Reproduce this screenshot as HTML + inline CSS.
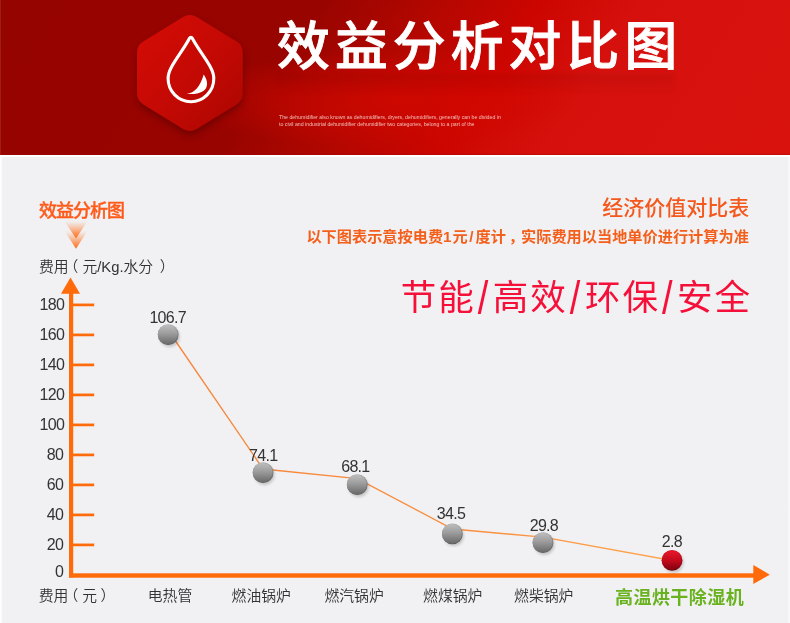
<!DOCTYPE html>
<html lang="zh-CN">
<head>
<meta charset="utf-8">
<title>效益分析对比图</title>
<style>
html,body{margin:0;padding:0;}
body{width:790px;height:623px;overflow:hidden;background:#fff;position:relative;
  font-family:"Liberation Sans","Noto Sans CJK SC",sans-serif;}
.abs{position:absolute;white-space:nowrap;line-height:1;}
#hdr{position:absolute;left:0;top:0;width:790px;height:155px;overflow:hidden;
  background:radial-gradient(ellipse 215px 50px at 395px 100px,rgba(212,8,0,.7),rgba(212,8,0,.42) 55%,rgba(212,8,0,0) 100%),linear-gradient(124deg,#960400 0%,#980400 36%,#b30700 49%,#cc0500 60.6%,#d6110d 72%,#d9120e 100%);}
#refl{position:absolute;left:278px;top:74px;width:396px;height:20px;
  background:linear-gradient(to bottom,rgba(90,0,0,.11),rgba(90,0,0,.05) 55%,rgba(90,0,0,0));filter:blur(2px);}
#hdr:before{content:"";position:absolute;left:0;top:0;bottom:0;width:1px;background:rgba(255,255,255,.1);}
#hdr:after{content:"";position:absolute;left:0;right:0;bottom:0;height:2px;background:linear-gradient(to bottom,rgba(150,0,0,0),rgba(160,0,0,.4));}
#panel{position:absolute;left:0;top:157px;width:790px;height:466px;background:linear-gradient(to right,#fff 0,#fdfdfe 1px,#f4f4f6 2.2px,#f1f1f3 3px,#f1f1f3 787.6px,#f6f6f8 788.4px,#f9f9fb 790px);}
#title{left:277px;top:21.4px;font-size:52.8px;font-weight:500;-webkit-text-stroke:.9px #fff;color:#fff;letter-spacing:5.1px;}
#sub{left:279.3px;top:113.2px;font-size:6.1px;line-height:7.1px;color:rgba(255,228,224,.8);white-space:nowrap;transform:scaleX(.856);transform-origin:0 0;}
#t1{left:39px;top:202.2px;font-size:18px;font-weight:500;-webkit-text-stroke:.35px #ff5a1a;color:#ff5a1a;letter-spacing:-1px;}
#t2{left:39px;top:259.8px;font-size:14.8px;color:#333;font-weight:350;}
#r1{right:40.8px;top:197px;font-size:21px;font-weight:500;color:#f4581c;}
#r2{right:41.2px;top:228.6px;font-size:15.2px;font-weight:700;color:#f4601c;}
#r3{right:38px;top:281.3px;font-size:35.5px;font-weight:400;color:#f60f38;letter-spacing:2px;}
#r3 i{font-style:normal;display:inline-block;font-size:38px;line-height:0;position:relative;top:0.6px;margin:0 2.5px 0 2px;transform:scaleY(1.21);transform-origin:50% 100%;}
.yl{position:absolute;left:30px;width:34.3px;text-align:right;font-size:16px;line-height:16px;color:#333;letter-spacing:-.7px;}
.xl{position:absolute;top:589.2px;font-size:14.8px;line-height:1;color:#333;white-space:nowrap;font-weight:350;}
.dv{position:absolute;font-size:16px;line-height:16px;color:#333;letter-spacing:-.7px;white-space:nowrap;transform:translateX(-50%);}
#g{left:615px;top:588.7px;font-size:18px;font-weight:700;color:#6ab21f;letter-spacing:.45px;}
.s1{margin-right:1px;}
.s2{margin:0 2px 0 1.5px;}
.cm{position:relative;left:3px;}
.pl{margin-left:-5px;margin-right:4px;}
.pr{margin-left:6.5px;}
.pr2{margin-left:3.5px;}
svg{position:absolute;left:0;top:0;}
</style>
</head>
<body>
<div id="hdr"><div id="refl"></div></div>
<div id="panel"></div>

<svg width="790" height="623" viewBox="0 0 790 623">
  <defs>
    <linearGradient id="hx" x1="0" y1="0" x2="1" y2="1">
      <stop offset="0" stop-color="#d60c06"/>
      <stop offset=".5" stop-color="#c50904"/>
      <stop offset="1" stop-color="#ab0601"/>
    </linearGradient>
    <linearGradient id="gb" x1="0" y1="0" x2="0" y2="1">
      <stop offset="0" stop-color="#bebebe"/>
      <stop offset=".45" stop-color="#9c9c9c"/>
      <stop offset="1" stop-color="#686868"/>
    </linearGradient>
    <linearGradient id="gd" x1="0" y1="0" x2="0" y2="1">
      <stop offset="0" stop-color="#a8a8a8"/>
      <stop offset=".5" stop-color="#7c7c7c"/>
      <stop offset="1" stop-color="#5a5a5a"/>
    </linearGradient>
    <linearGradient id="rd" x1="0" y1="0" x2="0" y2="1">
      <stop offset="0" stop-color="#d81428"/>
      <stop offset=".5" stop-color="#a80618"/>
      <stop offset="1" stop-color="#70000c"/>
    </linearGradient>
    <linearGradient id="rb" x1="0" y1="0" x2="0" y2="1">
      <stop offset="0" stop-color="#e8182c"/>
      <stop offset=".5" stop-color="#c40a1c"/>
      <stop offset="1" stop-color="#7e0010"/>
    </linearGradient>
    <linearGradient id="cv" x1="0" y1="0" x2="0" y2="1">
      <stop offset="0" stop-color="#ff7a2a" stop-opacity="0"/>
      <stop offset=".12" stop-color="#ff7a2a" stop-opacity=".05"/>
      <stop offset="1" stop-color="#ff6a10" stop-opacity="1"/>
    </linearGradient>
    <linearGradient id="lg" gradientUnits="userSpaceOnUse" x1="168" y1="0" x2="672" y2="0">
      <stop offset="0" stop-color="#f6863a"/>
      <stop offset=".6" stop-color="#f98f3e"/>
      <stop offset="1" stop-color="#ffa64e"/>
    </linearGradient>
    <filter id="sh" x="-50%" y="-50%" width="200%" height="200%">
      <feGaussianBlur stdDeviation="1.6"/>
    </filter>
    <filter id="hs" x="-50%" y="-50%" width="200%" height="200%">
      <feGaussianBlur stdDeviation="3.5"/>
    </filter>
  </defs>

  <!-- hexagon -->
  <g>
    <path d="M183.09 17.08 A13 13 0 0 1 196.71 17.08 L236.61 41.59 A13 13 0 0 1 242.8 52.67 L242.8 93.33 A13 13 0 0 1 236.61 104.41 L196.71 128.92 A13 13 0 0 1 183.09 128.92 L143.19 104.41 A13 13 0 0 1 137 93.33 L137 52.67 A13 13 0 0 1 143.19 41.59 Z" fill="#3a0000" opacity=".42" filter="url(#hs)" transform="translate(.5,4)"/>
    <path d="M183.09 17.08 A13 13 0 0 1 196.71 17.08 L236.61 41.59 A13 13 0 0 1 242.8 52.67 L242.8 93.33 A13 13 0 0 1 236.61 104.41 L196.71 128.92 A13 13 0 0 1 183.09 128.92 L143.19 104.41 A13 13 0 0 1 137 93.33 L137 52.67 A13 13 0 0 1 143.19 41.59 Z" fill="url(#hx)"/>
    <!-- droplet -->
    <path d="M192.3 38.3 C197 47.5 205.9 58.5 210.4 67 C212.6 71.2 213.8 74.8 213.8 78.5 C213.8 91.3 203.6 101.7 190.95 101.7 C178.3 101.7 168.1 91.3 168.1 78.5 C168.1 74.800 169.3 71.2 171.5 67 C176 58.5 184.8 47.5 189.5 38.3 C190.1 37 191.7 37 192.3 38.3 Z" fill="none" stroke="#fff" stroke-width="3.1" stroke-linejoin="round"/>
    <path d="M203.7 74.4 C207.8 80 208.8 87.5 203 91.2 C198.500 94 191.5 94.4 186.8 93.8 C194.5 93 200.2 86.5 203.7 74.4 Z" fill="#fff"/>
  </g>

  <!-- chevrons -->
  <path d="M63.800 220 L88.200 220 L76 238.600 Z" fill="url(#cv)"/>
  <path d="M63.800 230 L88.200 230 L76 248.800 Z" fill="url(#cv)"/>

  <!-- axes -->
  <g fill="#ff6a0a" stroke="none">
    <rect x="69" y="290" width="4.200" height="287.500"/>
    <path d="M70.500 277.500 L80 293.700 L61 293.700 Z"/>
    <rect x="69" y="573.300" width="686" height="4.400"/>
    <path d="M769.800 574.700 L753.300 565 L753.300 584 Z"/>
    <g>
      <rect x="72" y="303.55" width="22.2" height="2.7"/>
      <rect x="72" y="333.55" width="22.2" height="2.7"/>
      <rect x="72" y="363.55" width="22.2" height="2.7"/>
      <rect x="72" y="393.55" width="22.2" height="2.7"/>
      <rect x="72" y="423.55" width="22.2" height="2.7"/>
      <rect x="72" y="453.55" width="22.2" height="2.7"/>
      <rect x="72" y="483.55" width="22.2" height="2.7"/>
      <rect x="72" y="513.55" width="22.2" height="2.7"/>
      <rect x="72" y="543.55" width="22.2" height="2.7"/>
    </g>
  </g>

  <!-- data line -->
  <polyline points="168.3,330.5 263.1,469 357.3,478.7 452.7,529 543,537.2 672,560.5" fill="none" stroke="url(#lg)" stroke-width="1.35"/>

  <!-- balls -->
  <g>
    <g fill="#000" opacity=".2" filter="url(#sh)">
      <circle cx="169.60" cy="336.90" r="10"/>
      <circle cx="264.50" cy="474.90" r="10"/>
      <circle cx="358.65" cy="486.90" r="10"/>
      <circle cx="453.80" cy="536.10" r="10"/>
      <circle cx="544.40" cy="544.90" r="10"/>
      <circle cx="673.50" cy="562.60" r="10"/>
    </g>
    <g fill="url(#gd)">
      <circle cx="168.20" cy="334.70" r="10.4"/>
      <circle cx="263.10" cy="472.70" r="10.4"/>
      <circle cx="357.25" cy="484.70" r="10.4"/>
      <circle cx="452.40" cy="533.90" r="10.4"/>
      <circle cx="543.00" cy="542.70" r="10.4"/>
    </g>
    <g fill="url(#gb)">
      <circle cx="167.70" cy="334.60" r="9.9"/>
      <circle cx="262.60" cy="472.60" r="9.9"/>
      <circle cx="356.75" cy="484.60" r="9.9"/>
      <circle cx="451.90" cy="533.80" r="9.9"/>
      <circle cx="542.50" cy="542.60" r="9.9"/>
    </g>
    <circle cx="672.10" cy="560.40" r="10.4" fill="url(#rd)"/>
    <circle cx="671.60" cy="560.30" r="9.9" fill="url(#rb)"/>
  </g>
</svg>

<div id="title" class="abs">效益分析对比图</div>
<div id="sub" class="abs">The dehumidifier also known as dehumidifiers, dryers, dehumidifiers, generally can be divided in<br>to civil and industrial dehumidifier dehumidifier two categories, belong to a part of the</div>

<div id="t1" class="abs">效益分析图</div>
<div id="t2" class="abs">费用<span class="pl">（</span>元/Kg.水分<span class="pr">）</span></div>
<div id="r1" class="abs">经济价值对比表</div>
<div id="r2" class="abs">以下图表示意按电费<span class="s1">1</span>元<span class="s2">/</span>度计<span class="cm">，</span>实际费用以当地单价进行计算为准</div>
<div id="r3" class="abs">节能<i>/</i>高效<i>/</i>环保<i>/</i>安全</div>

<div class="yl" style="top:297.2px;width:34.1px">180</div>
<div class="yl" style="top:327.2px;width:34.1px">160</div>
<div class="yl" style="top:357.2px;width:34.1px">140</div>
<div class="yl" style="top:387.2px;width:34.1px">120</div>
<div class="yl" style="top:417.2px;width:34.1px">100</div>
<div class="yl" style="top:447.2px;width:33.1px">80</div>
<div class="yl" style="top:477.2px;width:33.1px">60</div>
<div class="yl" style="top:507.2px;width:33.1px">40</div>
<div class="yl" style="top:537.2px;width:33.1px">20</div>
<div class="yl" style="top:564.3px;width:33.1px">0</div>

<div class="dv" style="left:167.7px;top:309.71px">106.7</div>
<div class="dv" style="left:263.2px;top:447.71px">74.1</div>
<div class="dv" style="left:355.4px;top:458.71px">68.1</div>
<div class="dv" style="left:451.0px;top:505.71px">34.5</div>
<div class="dv" style="left:543.9px;top:517.71px">29.8</div>
<div class="dv" style="left:671.9px;top:533.71px">2.8</div>

<div class="xl" style="left:38.8px">费用<span class="pl">（</span>元<span class="pr2">）</span></div>
<div class="xl" style="left:147.8px">电热管</div>
<div class="xl" style="left:231.6px">燃油锅炉</div>
<div class="xl" style="left:324.5px">燃汽锅炉</div>
<div class="xl" style="left:423.1px">燃煤锅炉</div>
<div class="xl" style="left:514.1px">燃柴锅炉</div>
<div id="g" class="abs">高温烘干除湿机</div>
</body>
</html>
